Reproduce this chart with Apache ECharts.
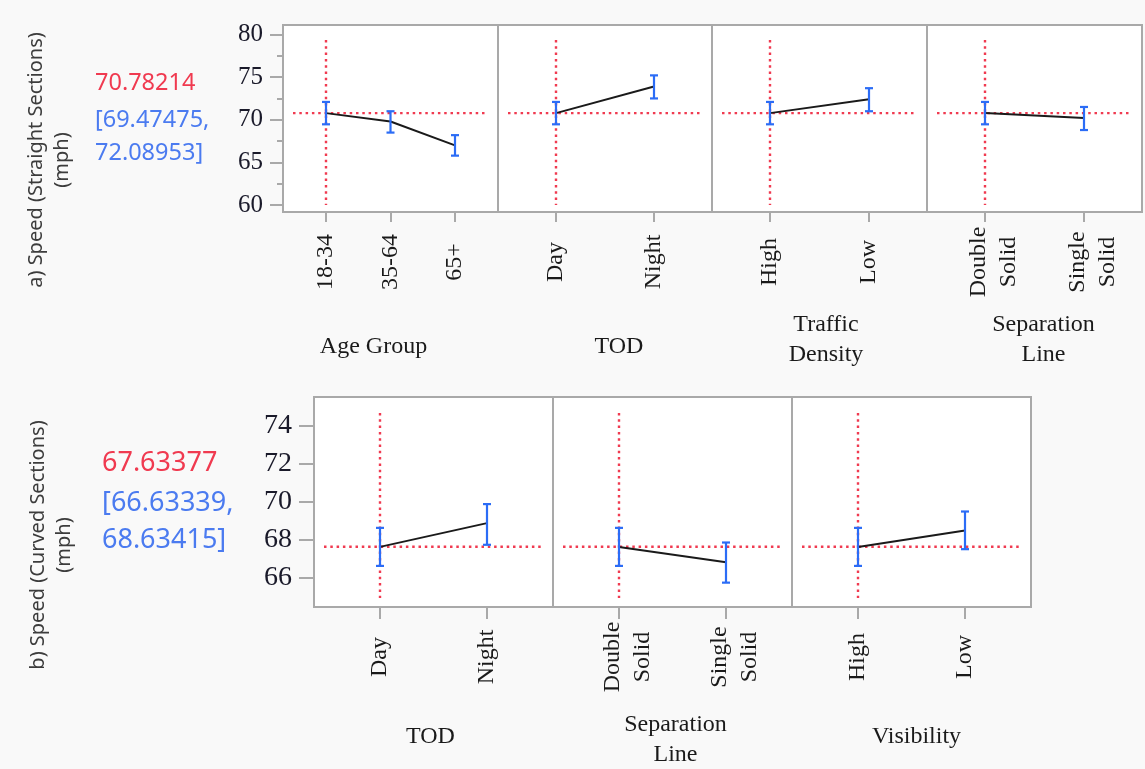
<!DOCTYPE html>
<html>
<head>
<meta charset="utf-8">
<script src="https://cdn.jsdelivr.net/npm/echarts@6/dist/echarts.min.js"></script>
<style>
  html, body { margin: 0; padding: 0; background: #f9f9f9; }
  #chart { width: 1145px; height: 769px; }
</style>
</head>
<body>
<div id="chart"></div>
<script>
// overall prediction + CI for each profiler
const refA = 70.78214, ciA = [69.47475, 72.08953];
const refB = 67.63377, ciB = [66.63339, 68.63415];

// y ticks
const yTicksA = [60, 65, 70, 75, 80];
const yMinorA = [62.5, 67.5, 72.5, 77.5];
const yTicksB = [66, 68, 70, 72, 74];

// a) straight sections
const ageCats = ['18-34', '35-64', '65+'];
const ageMean = [70.78, 69.8, 67.0];
const ageLo = [69.47, 68.5, 65.8];
const ageHi = [72.09, 71.0, 68.2];

const todCatsA = ['Day', 'Night'];
const todMeanA = [70.78, 73.9];
const todLoA = [69.47, 72.5];
const todHiA = [72.09, 75.2];

const densCats = ['High', 'Low'];
const densMean = [70.78, 72.4];
const densLo = [69.47, 71.0];
const densHi = [72.09, 73.7];

const sepCatsA = ['Double\nSolid', 'Single\nSolid'];
const sepMeanA = [70.78, 70.2];
const sepLoA = [69.47, 68.8];
const sepHiA = [72.09, 71.5];

// b) curved sections
const todCatsB = ['Day', 'Night'];
const todMeanB = [67.63, 68.88];
const todLoB = [66.63, 67.74];
const todHiB = [68.63, 69.88];

const sepCatsB = ['Double\nSolid', 'Single\nSolid'];
const sepMeanB = [67.63, 66.82];
const sepLoB = [66.63, 65.75];
const sepHiB = [68.63, 67.86];

const visCats = ['High', 'Low'];
const visMean = [67.63, 68.49];
const visLo = [66.63, 67.51];
const visHi = [68.63, 69.49];

const SERIF = '"Liberation Serif", "Times New Roman", serif';
const SANS = '"Noto Sans", "Open Sans", sans-serif';
const RED = '#f03a50';
const BLUE = '#2b6cf6';
const BLUE_TXT = '#4b7bf0';

const rowA = {
  top: 25, height: 187, yMin: 59.2, yMax: 81.1, ref: refA,
  vInset: [15, 7], tickLen: 10, yTickLen: 13, yFont: 25, yMargin: 20,
  panels: [
    { left: 283, width: 215, pad: 43, name: 'Age Group', cats: ageCats, mean: ageMean, lo: ageLo, hi: ageHi, nameGap: 135, namePad: [0, 34, 0, 0] },
    { left: 498, width: 214, pad: 58, name: 'TOD', cats: todCatsA, mean: todMeanA, lo: todLoA, hi: todHiA, nameGap: 135, namePad: [0, 0, 0, 28] },
    { left: 712, width: 215, pad: 58, name: 'Traffic\nDensity', cats: densCats, mean: densMean, lo: densLo, hi: densHi, nameGap: 128, namePad: [0, 0, 0, 13] },
    { left: 927, width: 215, pad: 58, name: 'Separation\nLine', cats: sepCatsA, mean: sepMeanA, lo: sepLoA, hi: sepHiA, nameGap: 128, namePad: [0, 0, 0, 18] }
  ]
};
const rowB = {
  top: 397, height: 210, yMin: 64.47, yMax: 75.51, ref: refB,
  vInset: [16, 9], tickLen: 12, yTickLen: 15, yFont: 28, yMargin: 22,
  panels: [
    { left: 314, width: 239, pad: 66, name: 'TOD', cats: todCatsB, mean: todMeanB, lo: todLoB, hi: todHiB, nameGap: 130, namePad: [0, 6, 0, 0] },
    { left: 553, width: 239, pad: 66, name: 'Separation\nLine', cats: sepCatsB, mean: sepMeanB, lo: sepLoB, hi: sepHiB, nameGap: 133, namePad: [0, 0, 0, 6] },
    { left: 792, width: 239, pad: 66, name: 'Visibility', cats: visCats, mean: visMean, lo: visLo, hi: visHi, nameGap: 130, namePad: [0, 0, 0, 10] }
  ]
};

const grid = [], xAxis = [], yAxis = [], series = [];

function refLines(inset) {
  return function (params, api) {
    const cs = params.coordSys;
    const p = api.coord([api.value(0), api.value(1)]);
    const style = { stroke: RED, lineWidth: 2.4, lineDash: [2.5, 3.8], fill: null };
    return {
      type: 'group',
      children: [
        { type: 'line', shape: { x1: cs.x + 10, y1: p[1], x2: cs.x + cs.width - 11, y2: p[1] }, style: style },
        { type: 'line', shape: { x1: p[0], y1: cs.y + inset[0], x2: p[0], y2: cs.y + cs.height - inset[1] }, style: style }
      ]
    };
  };
}

function errorBar(params, api) {
  const x = api.value(0);
  const a = api.coord([x, api.value(1)]);
  const b = api.coord([x, api.value(2)]);
  const style = { stroke: BLUE, lineWidth: 2.2, fill: null };
  return {
    type: 'group',
    children: [
      { type: 'line', shape: { x1: a[0], y1: a[1], x2: b[0], y2: b[1] }, style: style },
      { type: 'line', shape: { x1: a[0] - 4, y1: a[1], x2: a[0] + 4, y2: a[1] }, style: style },
      { type: 'line', shape: { x1: b[0] - 4, y1: b[1], x2: b[0] + 4, y2: b[1] }, style: style }
    ]
  };
}

// two-line tick labels: a short empty first line nudges the block so that
// the first word sits on the tick, as in the reference
function tickText(label) {
  const parts = label.split('\n');
  if (parts.length === 1) return '{m|' + label + '}';
  return '{s| }\n' + parts.map(function (t) { return '{m|' + t + '}'; }).join('\n');
}

function addRow(row, yTicks, yMinor) {
  row.panels.forEach(function (p, k) {
    const gi = grid.length;
    grid.push({
      left: p.left, top: row.top, width: p.width, height: row.height,
      outerBoundsMode: 'none', containLabel: false,
      show: true, backgroundColor: '#fff', borderColor: '#a9a9a9', borderWidth: 2
    });
    const n = p.cats.length;
    const idx = p.cats.map(function (c, i) { return i; });
    const step = (p.width - 2 * p.pad) / (n - 1);
    xAxis.push({
      type: 'value', gridIndex: gi,
      min: -p.pad / step, max: (n - 1) + p.pad / step,
      axisLine: { show: false, onZero: false }, splitLine: { show: false },
      axisTick: { customValues: idx, length: row.tickLen, lineStyle: { color: '#a9a9a9', width: 2 } },
      axisLabel: {
        customValues: idx,
        formatter: function (v) { return tickText(p.cats[Math.round(v)]); },
        rotate: 90, align: 'center', verticalAlign: 'middle', margin: 50,
        rich: {
          m: { fontFamily: SERIF, fontSize: 24, lineHeight: 30, color: '#1a1a1a' },
          s: { fontSize: 10, lineHeight: 18 }
        }
      },
      name: p.name, nameLocation: 'middle', nameGap: p.nameGap,
      nameTextStyle: { fontFamily: SERIF, fontSize: 24, lineHeight: 30, color: '#1a1a1a', verticalAlign: 'middle', padding: p.namePad }
    });
    const yi = yAxis.length;
    yAxis.push({
      type: 'value', gridIndex: gi, min: row.yMin, max: row.yMax,
      show: k === 0,
      axisLine: { show: false, onZero: false }, splitLine: { show: false },
      axisTick: { customValues: yTicks, length: row.yTickLen, lineStyle: { color: '#a9a9a9', width: 2 } },
      axisLabel: { customValues: yTicks, margin: row.yMargin, fontFamily: SERIF, fontSize: row.yFont, color: '#1a1a2a' }
    });
    if (k === 0 && yMinor) {
      yAxis.push({
        type: 'value', gridIndex: gi, min: row.yMin, max: row.yMax, position: 'left',
        axisLine: { show: false, onZero: false }, splitLine: { show: false },
        axisTick: { customValues: yMinor, length: 6, lineStyle: { color: '#a9a9a9', width: 2 } },
        axisLabel: { show: false }
      });
    }
    series.push({
      type: 'custom', xAxisIndex: gi, yAxisIndex: yi, z: 1, silent: true,
      data: [[0, row.ref]], renderItem: refLines(row.vInset)
    });
    series.push({
      type: 'line', xAxisIndex: gi, yAxisIndex: yi, z: 2, silent: true,
      data: p.mean.map(function (m, i) { return [i, m]; }),
      symbol: 'none', lineStyle: { color: '#1a1a1a', width: 2 }
    });
    series.push({
      type: 'custom', xAxisIndex: gi, yAxisIndex: yi, z: 3, silent: true,
      encode: { x: 0, y: [1, 2] },
      data: p.lo.map(function (l, i) { return [i, l, p.hi[i]]; }), renderItem: errorBar
    });
  });
}

addRow(rowA, yTicksA, yMinorA);
addRow(rowB, yTicksB, null);

const graphic = [
  { type: 'text', x: 49, y: 160, rotation: Math.PI / 2,
    style: { text: 'a) Speed (Straight Sections)\n(mph)', fontFamily: SANS, fontSize: 20, lineHeight: 26, fill: '#3c3c3c', align: 'center', verticalAlign: 'middle' } },
  { type: 'text', x: 51, y: 545, rotation: Math.PI / 2,
    style: { text: 'b) Speed (Curved Sections)\n(mph)', fontFamily: SANS, fontSize: 20, lineHeight: 26, fill: '#3c3c3c', align: 'center', verticalAlign: 'middle' } },
  { type: 'text', x: 95, y: 83,
    style: { text: refA.toFixed(5), fontFamily: SANS, fontSize: 23.5, fill: RED, verticalAlign: 'middle' } },
  { type: 'text', x: 95, y: 137,
    style: { text: '[' + ciA[0].toFixed(5) + ',\n' + ciA[1].toFixed(5) + ']', fontFamily: SANS, fontSize: 23.5, lineHeight: 33.5, fill: BLUE_TXT, verticalAlign: 'middle' } },
  { type: 'text', x: 102, y: 463,
    style: { text: refB.toFixed(5), fontFamily: SANS, fontSize: 27, fill: RED, verticalAlign: 'middle' } },
  { type: 'text', x: 102, y: 522,
    style: { text: '[' + ciB[0].toFixed(5) + ',\n' + ciB[1].toFixed(5) + ']', fontFamily: SANS, fontSize: 27, lineHeight: 37, fill: BLUE_TXT, verticalAlign: 'middle' } }
];

const chart = echarts.init(document.getElementById('chart'));
chart.setOption({
  backgroundColor: '#f9f9f9',
  animation: false,
  grid: grid,
  xAxis: xAxis,
  yAxis: yAxis,
  series: series,
  graphic: graphic
});
</script>
</body>
</html>
